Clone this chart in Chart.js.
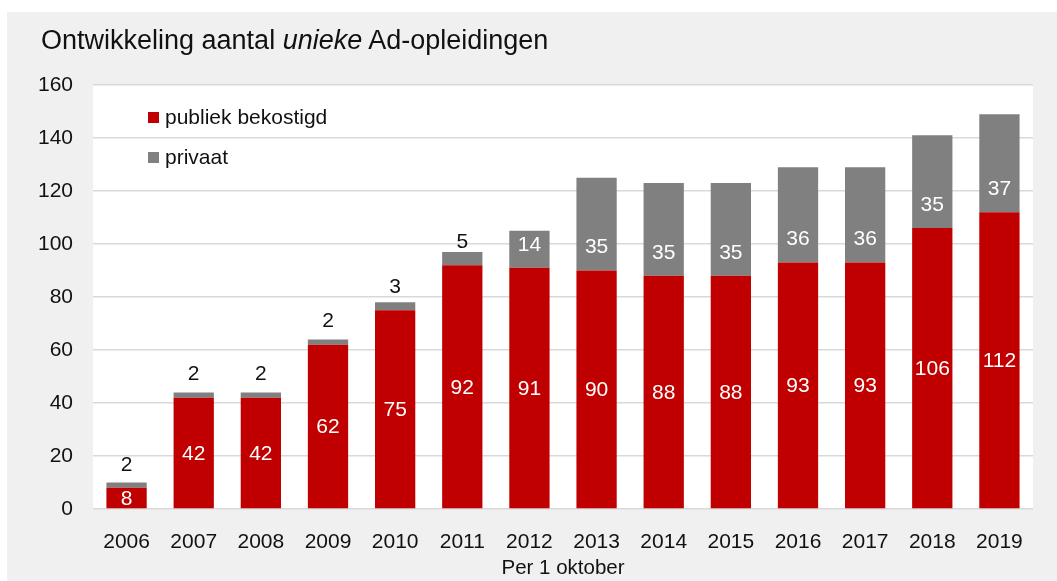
<!DOCTYPE html>
<html>
<head>
<meta charset="utf-8">
<script src="https://cdn.jsdelivr.net/npm/chart.js@4/dist/chart.umd.min.js"></script>
<style>
  html, body { margin: 0; padding: 0; background: #fff; }
  body { width: 1057px; height: 581px; position: relative; overflow: hidden;
         font-family: 'Liberation Sans', Arial, sans-serif; color: #111; }
  #panel { position: absolute; left: 7px; top: 12px; right: 0; bottom: 0; background: #f0f0f0; }
  #title { position: absolute; left: 41px; top: 27px; font-size: 27px; line-height: 1; white-space: nowrap; }
  #wrap { position: absolute; left: 0; top: 0; width: 1057px; height: 581px; }
  .leg { position: absolute; left: 148px; font-size: 21px; line-height: 1; white-space: nowrap; }
  .leg span { display: inline-block; width: 11px; height: 11px; margin-right: 6px; vertical-align: 1px; }
</style>
</head>
<body>
<div id="panel"></div>
<div id="wrap"><canvas id="adChart" width="1057" height="581"></canvas></div>
<div id="title">Ontwikkeling aantal <i>unieke</i> Ad-opleidingen</div>
<div class="leg" style="top:106px"><span style="background:#c00000"></span>publiek bekostigd</div>
<div class="leg" style="top:146px"><span style="background:#808080"></span>privaat</div>
<script>
const years = ['2006', '2007', '2008', '2009', '2010', '2011', '2012', '2013', '2014', '2015', '2016', '2017', '2018', '2019'];
const publiek = [8, 42, 42, 62, 75, 92, 91, 90, 88, 88, 93, 93, 106, 112];
const privaat = [2, 2, 2, 2, 3, 5, 14, 35, 35, 35, 36, 36, 35, 37];
const yTicks = [0, 20, 40, 60, 80, 100, 120, 140, 160];

const font = "'Liberation Sans', Arial, sans-serif";

const plotBg = {
    id: 'plotBg',
    beforeDraw(chart) {
        const a = chart.chartArea;
        const ctx = chart.ctx;
        ctx.save();
        ctx.fillStyle = '#ffffff';
        ctx.fillRect(a.left, a.top, a.right - a.left, a.bottom - a.top);
        ctx.restore();
    }
};

const barLabels = {
    id: 'barLabels',
    afterDatasetsDraw(chart) {
        const ctx = chart.ctx;
        ctx.save();
        ctx.font = '21px ' + font;
        ctx.textAlign = 'center';
        ctx.textBaseline = 'middle';
        chart.getDatasetMeta(0).data.forEach((bar, i) => {
            ctx.fillStyle = '#ffffff';
            ctx.fillText(publiek[i], bar.x, (bar.y + bar.base) / 2 + 1);
        });
        chart.getDatasetMeta(1).data.forEach((bar, i) => {
            ctx.fillStyle = privaat[i] >= 10 ? '#ffffff' : '#111111';
            ctx.fillText(privaat[i], bar.x, bar.base - 23);
        });
        ctx.restore();
    }
};

new Chart(document.getElementById('adChart'), {
    type: 'bar',
    data: {
        labels: years,
        datasets: [{
            label: 'publiek bekostigd',
            data: publiek,
            backgroundColor: '#c00000',
            borderWidth: 0,
            categoryPercentage: 1,
            barPercentage: 0.6
        }, {
            label: 'privaat',
            data: privaat,
            backgroundColor: '#808080',
            borderWidth: 0,
            categoryPercentage: 1,
            barPercentage: 0.6
        }]
    },
    options: {
        responsive: false,
        animation: false,
        layout: { padding: { left: 7, top: 85, right: 24, bottom: 0 } },
        plugins: {
            legend: { display: false },
            tooltip: { enabled: false }
        },
        scales: {
            x: {
                stacked: true,
                grid: { display: false },
                border: { display: false },
                ticks: { color: '#111', padding: 13, font: { family: font, size: 21 } },
                title: {
                    display: true,
                    text: 'Per 1 oktober',
                    color: '#111',
                    font: { family: font, size: 20.5 },
                    padding: { top: 0, bottom: 0 }
                },
                afterFit(scale) { scale.height = 72; }
            },
            y: {
                stacked: true,
                min: 0,
                max: 160,
                afterBuildTicks(scale) { scale.ticks = yTicks.map(v => ({ value: v })); },
                grid: { color: '#d9d9d9', lineWidth: 1.5, drawTicks: false },
                border: { display: false },
                ticks: { color: '#111', padding: 20, font: { family: font, size: 21 } },
                afterFit(scale) { scale.width = 86; }
            }
        }
    },
    plugins: [plotBg, barLabels]
});
</script>
</body>
</html>
